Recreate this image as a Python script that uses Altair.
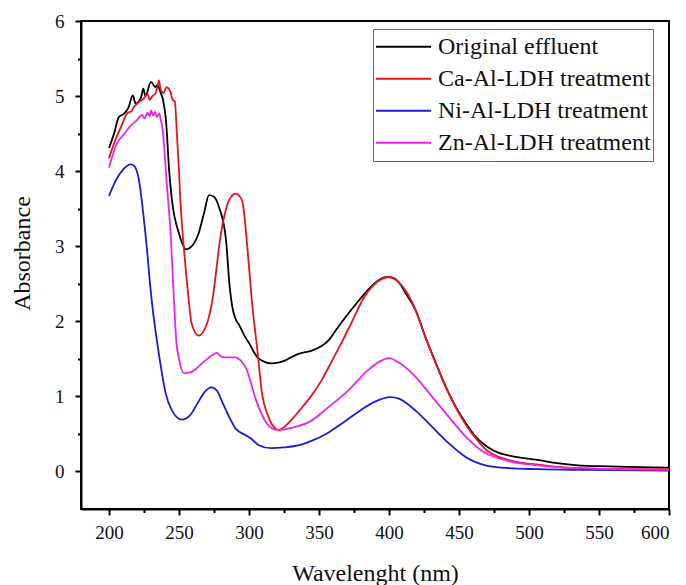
import altair as alt
import pandas as pd

series_names = ["Original effluent", "Ca-Al-LDH treatment", "Ni-Al-LDH treatment", "Zn-Al-LDH treatment"]
series_colors = ["#000000", "#e8141a", "#1a1ad8", "#ee22ee"]

wl_black = [200, 203.6, 207, 211, 214, 217, 219, 223, 224.5, 226, 230, 233, 234.5, 237, 238.6, 240.7, 243, 245,
            250, 255, 260, 264, 268, 271.4, 275, 278.6, 283.6, 286, 288, 290, 293, 297, 300, 306, 311, 316, 321, 326,
            331, 336, 345, 351, 357, 362, 370, 378.6, 385, 392, 398.6, 403, 407, 412, 419, 426, 433.5, 440.7, 448,
            455, 462, 471, 478, 486, 495, 507, 520, 535, 550, 570, 600]
abs_black = [4.31, 4.5, 4.72, 4.77, 4.85, 5.01, 4.9, 4.99, 5.1, 5.0, 5.19, 5.12, 5.15, 5.04, 4.95, 4.68, 4.0, 3.61,
             3.17, 2.96, 3.02, 3.17, 3.45, 3.68, 3.66, 3.52, 3.08, 2.5, 2.2, 2.05, 1.95, 1.8, 1.71, 1.52, 1.46, 1.44,
             1.45, 1.48, 1.53, 1.57, 1.61, 1.66, 1.75, 1.88, 2.08, 2.28, 2.42, 2.54, 2.59, 2.58, 2.52, 2.37, 2.15,
             1.79, 1.44, 1.12, 0.85, 0.64, 0.46, 0.32, 0.25, 0.21, 0.18, 0.15, 0.11, 0.08, 0.07, 0.06, 0.05]

wl_red = [200, 203.6, 208.6, 213, 216, 218, 221.4, 225, 227.6, 229, 231, 233.6, 235.7, 237, 239, 241, 243.8, 245.5,
          247, 248.6, 250, 251, 253.6, 257, 259, 264, 270, 273.8, 280, 285.7, 290.5, 295, 299, 302, 306, 309, 314,
          319, 321, 330, 336, 345, 352, 360, 366, 375, 381, 390, 400, 407, 419, 426, 433.5, 440.7, 448, 455, 462,
          470, 479, 490, 507, 520, 540, 570, 600]
abs_red = [4.17, 4.37, 4.59, 4.77, 4.8, 4.86, 4.92, 4.97, 5.03, 4.95, 5.0, 5.05, 5.21, 5.08, 5.04, 5.12, 5.06, 4.95,
           4.93, 4.46, 4.0, 3.61, 2.95, 2.28, 1.97, 1.81, 1.97, 2.28, 3.17, 3.61, 3.70, 3.61, 2.95, 2.28, 1.61, 1.08,
           0.72, 0.57, 0.55, 0.68, 0.81, 1.02, 1.22, 1.5, 1.71, 2.05, 2.28, 2.5, 2.59, 2.52, 2.15, 1.79, 1.44, 1.12,
           0.84, 0.62, 0.44, 0.28, 0.19, 0.13, 0.09, 0.06, 0.04, 0.03, 0.03]

wl_blue = [200, 205, 210, 215.6, 218, 221, 226, 230.5, 236, 240.5, 245, 252, 258, 263, 268, 273, 277, 281, 286,
           290.5, 298, 302, 307, 315.6, 325, 336, 345, 355, 364, 371, 380, 390, 401, 407, 419, 431, 443, 455, 469,
           480, 507, 540, 600]
abs_blue = [3.67, 3.88, 4.02, 4.09, 4.07, 3.92, 3.17, 2.28, 1.52, 1.04, 0.81, 0.69, 0.75, 0.9, 1.05, 1.12, 1.08,
            0.92, 0.72, 0.57, 0.48, 0.43, 0.35, 0.31, 0.32, 0.35, 0.41, 0.5, 0.61, 0.7, 0.82, 0.93, 0.99, 0.97, 0.81,
            0.59, 0.37, 0.19, 0.08, 0.05, 0.03, 0.02, 0.01]

wl_mag = [200, 205.7, 211, 215.7, 220, 223.6, 225.5, 227.5, 229, 230, 231.5, 233, 234, 236, 237, 238, 239.5, 241,
          244, 246.4, 248, 250, 253.6, 258, 263, 267, 271, 274, 277, 280, 283, 290, 294, 298, 305, 312, 316, 321,
          330, 343, 357, 371, 385, 393, 400, 407, 419, 431, 443, 455, 466, 483, 507, 540, 600]
abs_mag = [4.05, 4.37, 4.5, 4.61, 4.68, 4.75, 4.7, 4.78, 4.73, 4.81, 4.74, 4.79, 4.72, 4.77, 4.68, 4.6, 4.3, 3.9,
           3.17, 2.28, 1.75, 1.5, 1.31, 1.32, 1.38, 1.45, 1.51, 1.55, 1.58, 1.53, 1.52, 1.52, 1.48, 1.37, 0.95, 0.66,
           0.58, 0.55, 0.58, 0.66, 0.86, 1.08, 1.35, 1.46, 1.51, 1.45, 1.26, 0.99, 0.72, 0.46, 0.28, 0.15, 0.08,
           0.04, 0.02]

x_ticks = list(range(200, 601, 25))
y_ticks = [v / 2 for v in range(0, 13)]

rows = []
for name, wls, vals in zip(series_names, [wl_black, wl_red, wl_blue, wl_mag],
                           [abs_black, abs_red, abs_blue, abs_mag]):
    for w, a in zip(wls, vals):
        rows.append({"series": name, "wl": w, "A": a})
df = pd.DataFrame(rows)

FONT = "Liberation Serif, Times New Roman, serif"

chart = alt.Chart(df).mark_line(strokeWidth=1.8, interpolate="monotone").encode(
    x=alt.X("wl:Q",
            scale=alt.Scale(domain=[180, 600], nice=False, zero=False),
            axis=alt.Axis(values=x_ticks, grid=False, title="Wavelenght (nm)",
                          labelExpr="datum.value % 50 === 0 ? format(datum.value, 'd') : ''",
                          tickSize={"condition": {"test": "datum.value % 50 === 0", "value": 6}, "value": 3.5},
                          labelPadding=8, titleY=71, titleBaseline="alphabetic")),
    y=alt.Y("A:Q",
            scale=alt.Scale(domain=[-0.5, 6], nice=False, zero=False),
            axis=alt.Axis(values=y_ticks, grid=False, title="Absorbance",
                          labelExpr="datum.value % 1 === 0 ? format(datum.value, 'd') : ''",
                          tickSize={"condition": {"test": "datum.value % 1 === 0", "value": 6}, "value": 3.5},
                          labelPadding=11, titleX=-59, titleY=232, titleBaseline="middle", titleAlign="center")),
    color=alt.Color("series:N",
                    scale=alt.Scale(domain=series_names, range=series_colors),
                    legend=alt.Legend(title=None, orient="none", legendX=292, legendY=8,
                                      symbolType="stroke", symbolSize=3025, symbolStrokeWidth=2,
                                      labelFont=FONT, labelFontSize=24, labelColor="#111",
                                      labelLimit=0, clipHeight=31.5,
                                      strokeColor="#666", padding=2, labelOffset=6,
                                      rowPadding=0)),
    order=alt.Order("wl:Q"),
).properties(
    width=588, height=488,
    autosize=alt.AutoSizeParams(type="none"),
    padding={"left": 81, "top": 21, "right": 17, "bottom": 76},
).configure_view(
    stroke="black", strokeWidth=2
).configure_axis(
    domainColor="black", domainWidth=2, tickColor="black", tickWidth=2,
    labelFont=FONT, labelFontSize=19, labelColor="#111",
    titleFont=FONT, titleFontSize=24, titleFontWeight="normal", titleColor="#111",
)

chart.save("out.html", embed_options={"renderer": "svg", "actions": False})
